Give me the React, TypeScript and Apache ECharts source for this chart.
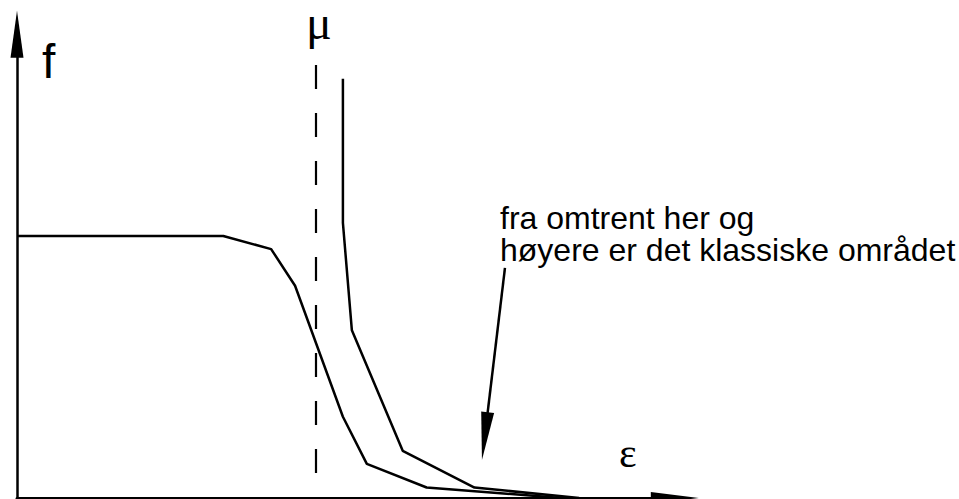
import React, { useEffect, useRef } from "react";
import * as echarts from "echarts";

// Occupation f(ε) against energy ε, μ = 1, plateau f = 1
const lowCurve: [number, number][] = [
  [0, 1.0],
  [0.69, 1.0],
  [0.85, 0.95],
  [0.93, 0.81],
  [1.09, 0.31],
  [1.17, 0.13],
  [1.37, 0.04],
  [1.82, 0],
];

const highCurve: [number, number][] = [
  [1.09, 1.6],
  [1.09, 1.05],
  [1.12, 0.64],
  [1.29, 0.18],
  [1.53, 0.04],
  [1.88, 0],
];

const muLine: [number, number][] = [
  [1, 1.653],
  [1, 0],
];

// annotation arrow: tail and tip in data units
const noteArrow: [number, number][] = [
  [1.632, 0.878],
  [1.555, 0.145],
];

const noteLines = ["fra omtrent her og", "høyere er det klassiske området"];

const EPS_MAX = 2.2;
const F_MAX = 1.77;

export default function App() {
  const ref = useRef<HTMLDivElement>(null);

  useEffect(() => {
    if (!ref.current) return;
    const chart = echarts.init(ref.current, undefined, { renderer: "svg" });

    const axisCommon = {
      type: "value" as const,
      min: 0,
      axisTick: { show: false },
      axisLabel: { show: false },
      splitLine: { show: false },
    };

    const lineStyle = { color: "#000", width: 2.5 };

    chart.setOption({
      animation: false,
      backgroundColor: "#fff",
      grid: { left: 17, top: 498 - F_MAX * 262, width: EPS_MAX * 299, height: F_MAX * 262 },
      xAxis: {
        ...axisCommon,
        max: EPS_MAX,
        axisLine: {
          show: true,
          onZero: false,
          symbol: ["none", "triangle"],
          symbolSize: [12, 48],
          lineStyle: { color: "#000", width: 3 },
        },
      },
      yAxis: {
        ...axisCommon,
        max: F_MAX,
        axisLine: {
          show: true,
          onZero: false,
          symbol: ["none", "triangle"],
          symbolSize: [13, 47],
          lineStyle: { color: "#000", width: 2.5 },
        },
      },
      series: [
        { type: "line", data: lowCurve, symbol: "none", lineStyle },
        { type: "line", data: highCurve, symbol: "none", lineStyle },
        {
          type: "line",
          data: muLine,
          symbol: "none",
          lineStyle: { color: "#000", width: 2.2, type: [24, 24] },
        },
      ],
    });

    const tail = chart.convertToPixel({ gridIndex: 0 }, noteArrow[0]) as number[];
    const tip = chart.convertToPixel({ gridIndex: 0 }, noteArrow[1]) as number[];
    const dx = tip[0] - tail[0];
    const dy = tip[1] - tail[1];
    const len = Math.hypot(dx, dy);
    const ux = dx / len;
    const uy = dy / len;
    const headLen = 48;
    const headHalf = 6.5;
    const bx = tip[0] - ux * headLen;
    const by = tip[1] - uy * headLen;

    const sans = "'Liberation Sans', Arial, sans-serif";
    const serif = "'Liberation Serif', 'Times New Roman', serif";

    chart.setOption({
      graphic: [
        {
          type: "line",
          shape: { x1: tail[0], y1: tail[1], x2: bx + ux * 2, y2: by + uy * 2 },
          style: { stroke: "#000", lineWidth: 2.5 },
        },
        {
          type: "polygon",
          shape: {
            points: [
              [tip[0], tip[1]],
              [bx - uy * headHalf, by + ux * headHalf],
              [bx + uy * headHalf, by - ux * headHalf],
            ],
          },
          style: { fill: "#000" },
        },
        {
          type: "text",
          x: 500,
          y: 234,
          style: {
            text: noteLines.join("\n"),
            font: `32px ${sans}`,
            lineHeight: 32,
            fill: "#000",
            verticalAlign: "middle",
          },
        },
        {
          type: "text",
          x: 42,
          y: 61,
          style: { text: "f", font: `48px ${sans}`, lineHeight: 44, fill: "#000", verticalAlign: "middle" },
        },
        {
          type: "text",
          x: 306,
          y: 22,
          style: { text: "μ", font: `48px ${serif}`, lineHeight: 40, fill: "#000", verticalAlign: "middle" },
        },
        {
          type: "text",
          x: 619,
          y: 453,
          style: { text: "ε", font: `42px ${serif}`, lineHeight: 40, fill: "#000", verticalAlign: "middle" },
        },
      ],
    });

    return () => chart.dispose();
  }, []);

  return (
    <div
      ref={ref}
      style={{ position: "fixed", left: 0, top: 0, width: 959, height: 499, background: "#fff" }}
    />
  );
}
